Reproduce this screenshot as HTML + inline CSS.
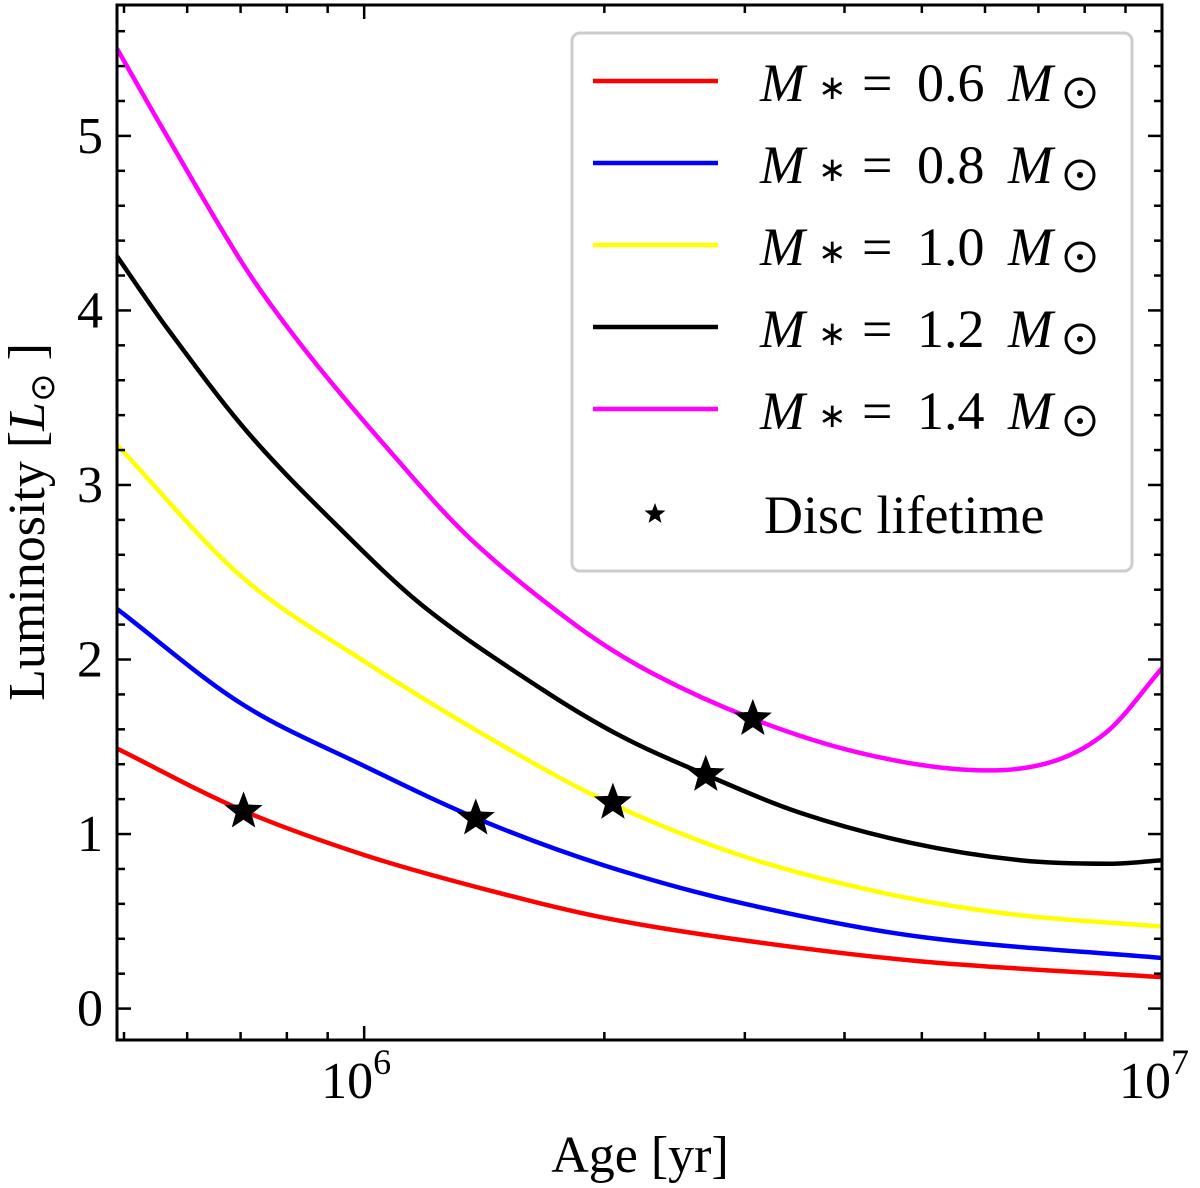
<!DOCTYPE html>
<html><head><meta charset="utf-8"><style>
body{margin:0;background:#fff}
svg text{font-family:"Liberation Serif","Times New Roman",serif;fill:#000}
</style></head><body>
<svg id="chart" width="1200" height="1183" viewBox="0 0 1200 1183" xmlns="http://www.w3.org/2000/svg" font-family="Liberation Serif, serif">
<g id="curves"></g>
<g id="axes"></g>
<g id="stars"></g>
<g id="legend">
 <rect x="572" y="33" width="560" height="538" rx="8" fill="#fff" fill-opacity="0.85" stroke="#ccc" stroke-width="3"/>
</g>
<text x="640" y="1172" font-size="52" text-anchor="middle">Age [yr]</text>
<text transform="translate(44,522) rotate(-90)" font-size="52" text-anchor="middle">Luminosity [<tspan font-style="italic">L</tspan><tspan font-size="34" dy="10">⊙</tspan><tspan dy="-10"> ]</tspan></text>
</svg>
<script>
const seriesLabels=["0.6","0.8","1.0","1.2","1.4"];
const seriesColors=["#ff0000","#0000ff","#ffff00","#000000","#ff00ff"];
const ages06=[4.9e5,7e5,1e6,1.4e6,2e6,3e6,5e6,1e7];
const lum06=[1.49,1.14,0.88,0.69,0.52,0.39,0.27,0.18];
const ages08=[4.9e5,7e5,1e6,1.4e6,2e6,3e6,5e6,1e7];
const lum08=[2.29,1.75,1.39,1.08,0.82,0.60,0.41,0.29];
const ages10=[4.9e5,7e5,1e6,1.5e6,2.05e6,3e6,4.5e6,6.5e6,1e7];
const lum10=[3.23,2.48,1.99,1.50,1.17,0.87,0.66,0.54,0.47];
const ages12=[4.9e5,5.68e5,7.15e5,9.28e5,1.19e6,1.67e6,2.1e6,2.68e6,3.53e6,4.84e6,6.64e6,8.6e6,1e7];
const lum12=[4.31,3.89,3.30,2.76,2.30,1.83,1.56,1.34,1.12,0.95,0.85,0.83,0.85];
const ages14=[4.9e5,5.56e5,7.06e5,8.41e5,1.06e6,1.36e6,1.85e6,2.3e6,3.07e6,4.14e6,5.61e6,7.1e6,8.5e6,1e7];
const lum14=[5.50,5.06,4.26,3.78,3.23,2.69,2.19,1.92,1.66,1.47,1.37,1.40,1.58,1.95];
const starAges=[7.06e5,1.38e6,2.05e6,2.68e6,3.07e6];
const starLums=[1.13,1.09,1.18,1.34,1.66];
const yTicks=[0,1,2,3,4,5];
const xMajor=[1e6,1e7];
const xMajorLabels=["6","7"];

const X0=117,X1=1162,Y0=5,Y1=1040;
const xmin=4.9e5,xmax=1e7,ymin=-0.18,ymax=5.75;
const xs=v=>X0+(Math.log10(v)-Math.log10(xmin))/(Math.log10(xmax)-Math.log10(xmin))*(X1-X0);
const ys=v=>Y1-(v-ymin)/(ymax-ymin)*(Y1-Y0);
const NS="http://www.w3.org/2000/svg";
function mk(tag,attrs,parent){const e=document.createElementNS(NS,tag);for(const k in attrs)e.setAttribute(k,attrs[k]);parent.appendChild(e);return e;}
function path(px,py){
 const n=px.length,m=[];
 for(let i=0;i<n;i++){
  const a=Math.max(i-1,0),b=Math.min(i+1,n-1);
  m.push((py[b]-py[a])/(px[b]-px[a]));
 }
 let s="M"+px[0]+","+py[0];
 for(let i=0;i<n-1;i++){
  const h=px[i+1]-px[i];
  s+=` C${px[i]+h/3},${py[i]+m[i]*h/3} ${px[i+1]-h/3},${py[i+1]-m[i+1]*h/3} ${px[i+1]},${py[i+1]}`;
 }
 return s;
}
const curvesG=document.getElementById('curves');
const allAges=[ages06,ages08,ages10,ages12,ages14],allLums=[lum06,lum08,lum10,lum12,lum14];
allAges.forEach((a,i)=>{
 const p=mk('path',{d:path(a.map(xs),allLums[i].map(ys)),fill:'none',stroke:seriesColors[i],'stroke-width':4.5},curvesG);
 
 
});
function starPts(cx,cy,R){const r=R*0.42;let s="";for(let k=0;k<10;k++){const a=-Math.PI/2+k*Math.PI/5,rr=k%2?r:R;s+=(cx+rr*Math.cos(a))+","+(cy+rr*Math.sin(a))+" ";}return s;}
const starsG=document.getElementById('stars');
starAges.forEach((a,i)=>{
 const s=mk('polygon',{points:starPts(xs(a),ys(starLums[i]),20),fill:'#000'},starsG);
 
 
});
const ax=document.getElementById('axes');
const fr=mk('rect',{x:X0,y:Y0,width:X1-X0,height:Y1-Y0,fill:'none',stroke:'#000','stroke-width':3},ax);


for(let v=0;v<=5.7;v+=0.2){
 const y=ys(v),maj=Math.abs(v-Math.round(v))<1e-6,L=maj?14:8;
 mk('line',{x1:X0,x2:X0+L,y1:y,y2:y,stroke:'#000','stroke-width':2.5},ax);
 mk('line',{x1:X1,x2:X1-L,y1:y,y2:y,stroke:'#000','stroke-width':2.5},ax);
}
yTicks.forEach(v=>{
 const t=mk('text',{x:X0-14,y:ys(v)+17,'font-size':52,'text-anchor':'end'},ax);
 t.textContent=String(v);
 
 
});
for(let dec=5;dec<=6;dec++)for(let m=1;m<=9;m++){
 const v=m*Math.pow(10,dec);if(v<xmin||v>xmax)continue;
 const x=xs(v),L=(m===1)?14:8;
 mk('line',{x1:x,x2:x,y1:Y1,y2:Y1-L,stroke:'#000','stroke-width':2.5},ax);
 mk('line',{x1:x,x2:x,y1:Y0,y2:Y0+L,stroke:'#000','stroke-width':2.5},ax);
}
xMajor.forEach((v,i)=>{
 const t=mk('text',{x:xs(v)-8,y:1098,'font-size':52,'text-anchor':'middle'},ax);
 t.innerHTML='10<tspan font-size="36" dy="-24">'+xMajorLabels[i]+'</tspan>';
 
 
});
const lg=document.getElementById('legend');
seriesLabels.forEach((s,i)=>{
 const y=81+i*82;
 const l=mk('line',{x1:593,x2:718,y1:y,y2:y,stroke:seriesColors[i],'stroke-width':4.5},lg);
 
 
 const g=mk('g',{},lg);
 
 
 mk('text',{x:760,y:y+20,'font-size':54,'font-style':'italic'},g).textContent='M';
 mk('text',{x:818,y:y+18,'font-size':34},g).textContent='∗';
 mk('text',{x:862,y:y+20,'font-size':54},g).textContent='=';
 mk('text',{x:917,y:y+20,'font-size':54},g).textContent=s;
 mk('text',{x:1008,y:y+20,'font-size':54,'font-style':'italic'},g).textContent='M';
 mk('circle',{cx:1080,cy:y+12,r:14,fill:'none',stroke:'#000','stroke-width':3},g);
 mk('circle',{cx:1080,cy:y+12,r:3,fill:'#000'},g);
});
const ls=mk('polygon',{points:starPts(655,514,11),fill:'#000'},lg);


const lt=mk('text',{x:764,y:533,'font-size':54},lg);
lt.textContent='Disc lifetime';


</script>
</body></html>
